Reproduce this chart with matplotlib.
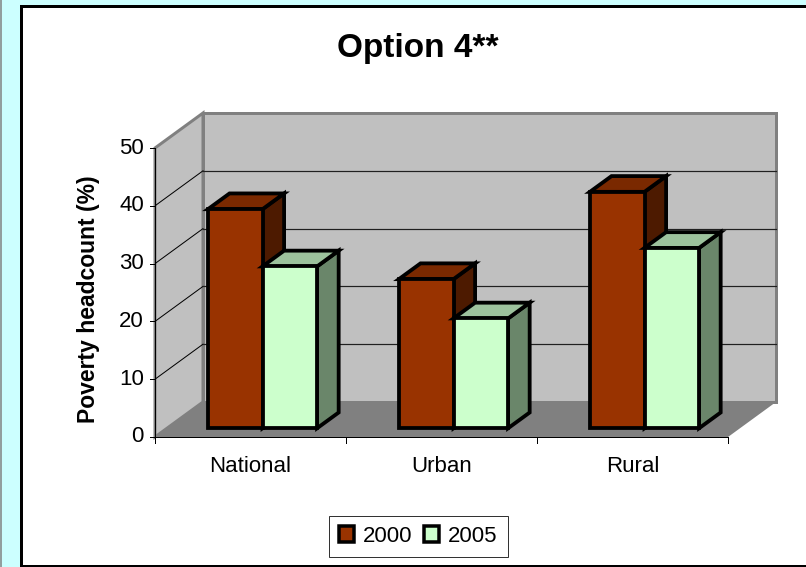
import matplotlib
matplotlib.use("Agg")
import matplotlib.pyplot as plt
from matplotlib.patches import Polygon, Rectangle, Patch

plt.rcParams['font.family'] = ['Liberation Sans', 'DejaVu Sans']

# ---- data ----
categories = ["National", "Urban", "Rural"]
series_names = ["2000", "2005"]
values_2000 = [37.9, 25.8, 40.9]
values_2005 = [28.0, 19.0, 31.2]
y_ticks = [0, 10, 20, 30, 40, 50]
title = "Option 4**"
y_label = "Poverty headcount (%)"

# ---- styling ----
front_colors = ["#993300", "#CCFFCC"]
top_colors = ["#7A2900", "#9DC29D"]
side_colors = ["#4D1A00", "#6A866A"]
wall_color = "#C0C0C0"
floor_color = "#808080"
wall_edge = "#808080"

W, H, DPI = 806, 567, 100
fig = plt.figure(figsize=(W / DPI, H / DPI), dpi=DPI)
fig.patch.set_facecolor("#CCFFFF")

PX = 72.0 / DPI  # one pixel in points


def fpx(x, y):
    """pixel position (from top-left) -> figure fraction"""
    return x / W, 1 - y / H


# chart area frame (right edge runs past the canvas)
fig.add_artist(Rectangle(fpx(20.5, 566), 800 / W, 560 / H, transform=fig.transFigure,
                         facecolor="white", edgecolor="black", linewidth=3 * PX, zorder=0))
fig.add_artist(plt.Line2D([0.6 / W, 0.6 / W], [0, 1], transform=fig.transFigure,
                          color="#808080", linewidth=1.5 * PX))

# plotting axes: x in category units, y in value units (oblique projection)
ax = fig.add_axes([0, 0, 1, 1])
ax.set_facecolor("none")
ax.axis("off")
cat_px = 191.0            # px per category
val_px = 5.78             # px per value unit
x0_px, y0_px = 155.0, 437.0
ax.set_xlim(-x0_px / cat_px, (W - x0_px) / cat_px)
ax.set_ylim(-(H - y0_px) / val_px, y0_px / val_px)

DX = 48.0 / cat_px        # depth shift in category units
DY = 35.0 / val_px        # depth shift in value units
ncat = len(categories)
vmax = y_ticks[-1]


def P(x, y, d):
    return (x + d * DX, y + d * DY)


# floor, left wall, back wall
ax.add_patch(Polygon([P(0, 0, 0), P(ncat, 0, 0), P(ncat, 0, 1), P(0, 0, 1)],
                     closed=True, facecolor=floor_color, edgecolor="none", zorder=1))
ax.add_patch(Polygon([P(0, 0, 0), P(0, 0, 1), P(0, vmax, 1), P(0, vmax, 0)],
                     closed=True, facecolor=wall_color, edgecolor=wall_edge,
                     linewidth=3 * PX, joinstyle="miter", zorder=1))
ax.add_patch(Polygon([P(0, 0, 1), P(ncat, 0, 1), P(ncat, vmax, 1), P(0, vmax, 1)],
                     closed=True, facecolor=wall_color, edgecolor=wall_edge,
                     linewidth=3 * PX, joinstyle="miter", zorder=1))

# gridlines on walls
for t in y_ticks[1:-1]:
    a, b = P(0, t, 0), P(0, t, 1)
    ax.plot([a[0], b[0]], [a[1], b[1]], color="black", linewidth=1 * PX, zorder=2)
    c = P(ncat, t, 1)
    ax.plot([b[0], c[0]], [b[1], c[1]], color="#202020", linewidth=1.2 * PX, zorder=2)

# value axis
ax.plot([0, 0], [0, vmax], color="#808080", linewidth=2 * PX, zorder=3)
ax.plot([0, 0], [0, vmax], color="black", linewidth=1 * PX, zorder=3)
for t in y_ticks:
    ax.plot([-5 / cat_px, 0], [t, t], color="black", linewidth=1 * PX, zorder=3)
    ax.text(-11 / cat_px, t, str(t), ha="right", va="center", fontsize=16, zorder=3)

# category axis
ax.plot([0, ncat], [0, 0], color="black", linewidth=1 * PX, zorder=3)
for i in range(ncat + 1):
    ax.plot([i, i], [0, -6 / val_px], color="black", linewidth=1 * PX, zorder=3)
for i, name in enumerate(categories):
    ax.text(i + 0.5, -29 / val_px, name, ha="center", va="center", fontsize=16, zorder=3)

# 3D columns
gap_width = 1.5
bar_w = 1.0 / (2 + gap_width)
d_front, d_back = 0.25, 0.70
series = [values_2000, values_2005]
for i in range(ncat):
    c = i + 0.5
    for s, vals in enumerate(series):
        v = vals[i]
        xa = c - bar_w + s * bar_w
        xb = xa + bar_w
        kw = dict(closed=True, edgecolor="black", linewidth=3.8 * PX, joinstyle="miter", zorder=5)
        ax.add_patch(Polygon([P(xb, 0, d_front), P(xb, 0, d_back), P(xb, v, d_back), P(xb, v, d_front)],
                             facecolor=side_colors[s], **kw))
        ax.add_patch(Polygon([P(xa, v, d_front), P(xb, v, d_front), P(xb, v, d_back), P(xa, v, d_back)],
                             facecolor=top_colors[s], **kw))
        ax.add_patch(Polygon([P(xa, 0, d_front), P(xb, 0, d_front), P(xb, v, d_front), P(xa, v, d_front)],
                             facecolor=front_colors[s], **kw))

# titles
fig.text(*fpx(418, 49), title, ha="center", va="center", fontsize=24, fontweight="bold")
fig.text(*fpx(89, 299), y_label, ha="center", va="center", rotation=90,
         fontsize=16.5, fontweight="bold")

# legend
handles = [Patch(facecolor=front_colors[s], edgecolor="black", linewidth=3.5 * PX)
           for s in range(len(series_names))]
leg = fig.legend(handles, series_names, loc="center", bbox_to_anchor=fpx(418, 536),
                 ncol=2, fontsize=16, frameon=True, fancybox=False,
                 handlelength=0.7, handleheight=0.7, handletextpad=0.4,
                 columnspacing=0.5, borderpad=0.45, borderaxespad=0)
leg.get_frame().set_edgecolor("black")
leg.get_frame().set_linewidth(1 * PX)

fig.savefig("out.png", dpi=DPI, facecolor=fig.get_facecolor())
